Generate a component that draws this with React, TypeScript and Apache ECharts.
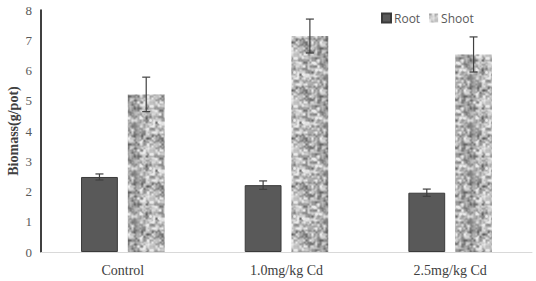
import React, { useEffect, useRef } from "react";
import * as echarts from "echarts";

const categories = ["Control", "1.0mg/kg Cd", "2.5mg/kg Cd"];
const rootValues = [2.48, 2.21, 1.96];
const shootValues = [5.21, 7.14, 6.53];
const rootErrors = [0.1, 0.14, 0.12];
const shootErrors = [0.57, 0.56, 0.58];
const yTicks = [0, 1, 2, 3, 4, 5, 6, 7, 8];

function hash(x: number, y: number): number {
  let h = (x * 374761393 + y * 668265263) | 0;
  h = (h ^ (h >>> 13)) * 1274126177;
  h = h ^ (h >>> 16);
  return ((h >>> 0) % 1000) / 1000;
}

function makeTexture(): string {
  const size = 48;
  const c = document.createElement("canvas");
  c.width = size;
  c.height = size;
  const ctx = c.getContext("2d");
  if (!ctx) return "";
  const img = ctx.createImageData(size, size);
  const noise = (x: number, y: number, cell: number) => {
    const n = size / cell;
    const gx = x / cell, gy = y / cell;
    const x0 = Math.floor(gx), y0 = Math.floor(gy);
    const fx = gx - x0, fy = gy - y0;
    const sx = fx * fx * (3 - 2 * fx), sy = fy * fy * (3 - 2 * fy);
    const h = (a: number, b: number) => hash(((a % n) + n) % n + cell * 97, ((b % n) + n) % n);
    const a = h(x0, y0), b = h(x0 + 1, y0), cc = h(x0, y0 + 1), d = h(x0 + 1, y0 + 1);
    return (a * (1 - sx) + b * sx) * (1 - sy) + (cc * (1 - sx) + d * sx) * sy;
  };
  for (let y = 0; y < size; y++) {
    for (let x = 0; x < size; x++) {
      const n = 0.6 * noise(x, y, 3) + 0.4 * noise(x, y, 2);
      let v = 175 + (n - 0.5) * 180;
      v = Math.max(65, Math.min(235, v));
      const i = (y * size + x) * 4;
      img.data[i] = v;
      img.data[i + 1] = v;
      img.data[i + 2] = v;
      img.data[i + 3] = 255;
    }
  }
  ctx.putImageData(img, 0, 0);
  return c.toDataURL();
}

export default function App() {
  const ref = useRef<HTMLDivElement>(null);
  useEffect(() => {
    if (!ref.current) return;
    const chart = echarts.init(ref.current, null, { renderer: "svg" });
    const tex = makeTexture();
    const barW = 0.225;
    const gapRatio = 0.27;
    const errSeries = (vals: number[], errs: number[], side: number, name: string) => ({
      type: "custom",
      name,
      data: vals.map((v, i) => [i, v - errs[i], v + errs[i]]),
      encode: { x: 0, y: [1, 2] },
      z: 5,
      silent: true,
      renderItem: (params: any, api: any) => {
        const idx = api.value(0);
        const band = api.size([1, 0])[0];
        const bw = band * barW;
        const off = side * (bw * (1 + gapRatio)) / 2;
        const lo = api.coord([idx, api.value(1)]);
        const hi = api.coord([idx, api.value(2)]);
        const x = lo[0] + off;
        const cap = 4;
        const style = { stroke: "#404040", lineWidth: 1.2 };
        return {
          type: "group",
          children: [
            { type: "line", shape: { x1: x, y1: lo[1], x2: x, y2: hi[1] }, style },
            { type: "line", shape: { x1: x - cap, y1: hi[1], x2: x + cap, y2: hi[1] }, style },
            { type: "line", shape: { x1: x - cap, y1: lo[1], x2: x + cap, y2: lo[1] }, style },
          ],
        };
      },
    });
    chart.setOption({
      animation: false,
      grid: { left: 41, right: 4, top: 10, bottom: 29, containLabel: false, outerBoundsMode: "none" },
      legend: {
        data: ["Root", "Shoot"],
        left: 376,
        top: 7,
        itemWidth: 9,
        itemHeight: 9,
        itemGap: 9,
        icon: "rect",
        textStyle: { fontFamily: "Open Sans", fontSize: 12, color: "#595959", padding: [0, 0, 0, -2] },
      },
      xAxis: {
        type: "category",
        data: categories,
        axisLine: { lineStyle: { color: "#d9d9d9", width: 1 } },
        axisTick: { show: false },
        axisLabel: { fontFamily: "Liberation Serif", fontSize: 14, color: "#404040", margin: 11 },
      },
      yAxis: {
        type: "value",
        min: 0,
        max: yTicks[yTicks.length - 1],
        interval: 1,
        name: "Biomass(g/pot)",
        nameLocation: "middle",
        nameGap: 21,
        nameMoveOverlap: false,
        nameTextStyle: { fontFamily: "Liberation Serif", fontWeight: "bold", fontSize: 14, color: "#404040" },
        axisLine: { show: true, lineStyle: { color: "#000000", width: 1.5 } },
        axisTick: { show: false },
        splitLine: { show: false },
        axisLabel: { fontFamily: "Liberation Serif", fontSize: 13, color: "#595959", margin: 9 },
      },
      series: [
        {
          type: "bar",
          name: "Root",
          data: rootValues,
          barWidth: "22.5%",
          barGap: "27%",
          itemStyle: { color: "#595959", borderColor: "#3a3a3a", borderWidth: 1 },
        },
        {
          type: "bar",
          name: "Shoot",
          data: shootValues,
          barWidth: "22.5%",
          barGap: "27%",
          itemStyle: { color: { image: tex, repeat: "repeat" } as any },
        },
        errSeries(rootValues, rootErrors, -1, "RootErr"),
        errSeries(shootValues, shootErrors, 1, "ShootErr"),
      ],
    } as any);
    return () => chart.dispose();
  }, []);
  return <div ref={ref} style={{ width: 536, height: 281, position: "absolute", left: 0, top: 0 }} />;
}
